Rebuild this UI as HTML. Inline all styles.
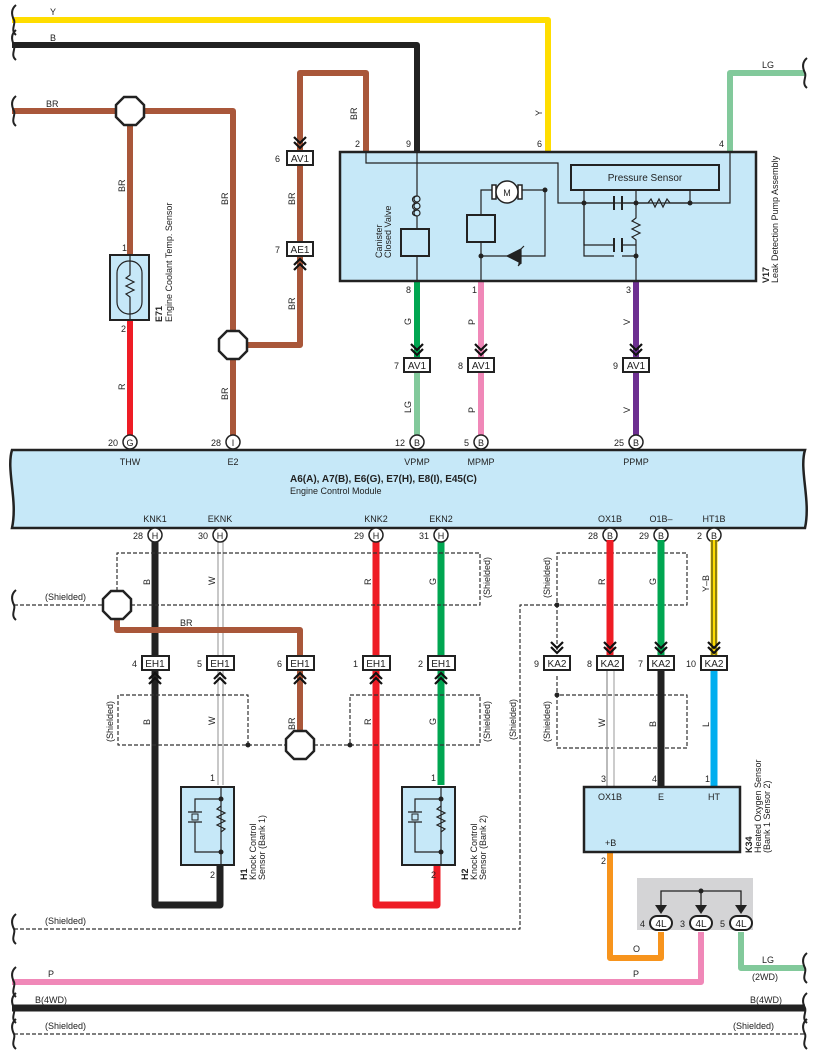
<!DOCTYPE html>
<html><head><meta charset="utf-8"><style>
html,body{margin:0;padding:0;background:#fff}
svg{display:block}
text{font-family:"Liberation Sans",sans-serif;fill:#222}
</style></head><body>
<svg width="818" height="1056" viewBox="0 0 818 1056" xmlns="http://www.w3.org/2000/svg">
<defs>
<g id="oct"><polygon points="-6,-14 6,-14 14,-6 14,6 6,14 -6,14 -14,6 -14,-6" fill="#fff" stroke="#222" stroke-width="2.5"/></g>
<g id="dn"><path d="M-6,-21 L0,-15 L6,-21 M-6,-16 L0,-10 L6,-16" fill="none" stroke="#111" stroke-width="2.2"/></g>
<g id="up"><path d="M-6,21 L0,15 L6,21 M-6,16 L0,10 L6,16" fill="none" stroke="#111" stroke-width="2.2"/></g>
<g id="brk"><path d="M4,-15 C-2,-10 0,-4 2,0 C4,4 -2,10 4,15" fill="none" stroke="#222" stroke-width="2"/></g>
</defs>

<g fill="none" stroke-linejoin="round">
<path d="M12,20 H548 V152" stroke="#ffdd00" stroke-width="6"/>
<path d="M12,45 H417 V152" stroke="#222" stroke-width="6"/>
<path d="M12,111 H233 V440" stroke="#a9573a" stroke-width="6"/>
<path d="M130,111 V255" stroke="#a9573a" stroke-width="6"/>
<path d="M233,345 H300 V73 H366 V152" stroke="#a9573a" stroke-width="6"/>
<path d="M130,320 V440" stroke="#ee1c25" stroke-width="6"/>
<path d="M730,152 V73 H805" stroke="#82c99b" stroke-width="6"/>
<path d="M417,281 V358" stroke="#00a651" stroke-width="6"/>
<path d="M417,372 V440" stroke="#82c99b" stroke-width="6"/>
<path d="M481,281 V440" stroke="#f088b8" stroke-width="6"/>
<path d="M636,281 V440" stroke="#6d2f91" stroke-width="6"/>
</g>
<use href="#brk" x="12" y="20"/><use href="#brk" x="12" y="45"/><use href="#brk" x="12" y="111"/><use href="#brk" x="803" y="73"/>
<text x="50" y="15" font-size="9">Y</text>
<text x="50" y="41" font-size="9">B</text>
<text x="46" y="107" font-size="9">BR</text>
<text x="762" y="68" font-size="9">LG</text>
<use href="#oct" x="130" y="111"/>
<use href="#oct" x="233" y="345"/>
<g font-size="9">
<text transform="translate(125,192) rotate(-90)">BR</text>
<text transform="translate(228,205) rotate(-90)">BR</text>
<text transform="translate(295,205) rotate(-90)">BR</text>
<text transform="translate(295,310) rotate(-90)">BR</text>
<text transform="translate(357,120) rotate(-90)">BR</text>
<text transform="translate(542,116) rotate(-90)">Y</text>
<text transform="translate(125,390) rotate(-90)">R</text>
<text transform="translate(228,400) rotate(-90)">BR</text>
<text transform="translate(411,325) rotate(-90)">G</text>
<text transform="translate(411,413) rotate(-90)">LG</text>
<text transform="translate(475,325) rotate(-90)">P</text>
<text transform="translate(475,413) rotate(-90)">P</text>
<text transform="translate(630,325) rotate(-90)">V</text>
<text transform="translate(630,413) rotate(-90)">V</text>
</g>
<use href="#dn" x="300" y="158"/>
<rect x="287" y="151" width="26" height="14" fill="#fff" stroke="#222" stroke-width="2"/>
<text x="300" y="162" font-size="10" text-anchor="middle">AV1</text><text x="280" y="162" font-size="9" text-anchor="end">6</text>
<rect x="287" y="242" width="26" height="14" fill="#fff" stroke="#222" stroke-width="2"/>
<use href="#up" x="300" y="249"/>
<text x="300" y="253" font-size="10" text-anchor="middle">AE1</text><text x="280" y="253" font-size="9" text-anchor="end">7</text>

<rect x="110" y="255" width="39" height="65" fill="#c6e8f8" stroke="#222" stroke-width="2"/>
<rect x="117" y="261" width="25" height="53" rx="12" fill="none" stroke="#222" stroke-width="1.2"/>
<path d="M130,255 V275 L126,278 L134,282 L126,286 L134,290 L126,294 L130,297 V320" fill="none" stroke="#222" stroke-width="1.2"/>
<text x="122" y="251" font-size="9">1</text><text x="121" y="332" font-size="9">2</text>
<text transform="translate(162,322) rotate(-90)" font-size="9"><tspan font-weight="bold">E71</tspan></text>
<text transform="translate(172,322) rotate(-90)" font-size="9">Engine Coolant Temp.  Sensor</text>

<rect x="340" y="152" width="416" height="129" fill="#c6e8f8" stroke="#222" stroke-width="2.5"/>
<g fill="none" stroke="#222" stroke-width="1.2">
<path d="M366,152 V163 H558 V203 H730 V152"/>
<path d="M417,152 V196 M417,216 V229 M417,256 V281"/>
<path d="M417,196 C411,196 411,203 417,203 M417,203 C411,203 411,210 417,210 M417,210 C411,210 411,216 417,216"/>
<path d="M414,199 a3,3 0 1,0 6,0 a3,3 0 1,0 -6,0 M414,206 a3,3 0 1,0 6,0 a3,3 0 1,0 -6,0 M414,213 a3,3 0 1,0 6,0 a3,3 0 1,0 -6,0"/>
<path d="M481,281 V242 M481,242 V215 M481,242 V256 H545 V190 H522 M481,215 V190 H492"/>
<path d="M507,256 L521,249 V263 Z M521,249 V263 L518,266 M521,249 L524,246" fill="#222"/>
<path d="M584,203 V245 H614 M622,245 H636 V281 M636,203 V218 l-4,3 8,4 -8,4 8,4 -8,4 4,3 V245"/>
<path d="M584,203 H614 M622,203 H648 l3,-4 4,8 4,-8 4,8 4,-8 3,4 H690"/>
<path d="M614,196 V210 M622,196 V210 M614,238 V252 M622,238 V252" stroke-width="2"/>
<path d="M584,190 V203 M636,190 V203 M690,190 V203"/>
</g>
<rect x="401" y="229" width="28" height="27" fill="#c6e8f8" stroke="#222" stroke-width="2"/>
<rect x="467" y="215" width="28" height="27" fill="#c6e8f8" stroke="#222" stroke-width="2"/>
<rect x="492" y="185" width="4" height="14" fill="#fff" stroke="#222" stroke-width="1.5"/>
<rect x="518" y="185" width="4" height="14" fill="#fff" stroke="#222" stroke-width="1.5"/>
<circle cx="507" cy="192" r="11" fill="#fff" stroke="#222" stroke-width="1.5"/>
<text x="507" y="196" font-size="9" text-anchor="middle">M</text>
<rect x="571" y="165" width="148" height="25" fill="#c6e8f8" stroke="#222" stroke-width="2"/>
<text x="645" y="181" font-size="10" text-anchor="middle">Pressure Sensor</text>
<g fill="#222"><circle cx="545" cy="190" r="2.5"/><circle cx="481" cy="256" r="2.5"/><circle cx="584" cy="203" r="2.5"/><circle cx="636" cy="203" r="2.5"/><circle cx="690" cy="203" r="2.5"/><circle cx="636" cy="256" r="2.5"/></g>
<path d="M584,203 V256 H614 M622,256 H636" fill="none" stroke="#222" stroke-width="1.2"/>
<text transform="translate(382,258) rotate(-90)" font-size="9">Canister</text>
<text transform="translate(391,258) rotate(-90)" font-size="9">Closed Valve</text>
<text transform="translate(769,283) rotate(-90)" font-size="9"><tspan font-weight="bold">V17</tspan></text>
<text transform="translate(778,283) rotate(-90)" font-size="9">Leak Detection Pump Assembly</text>
<g font-size="9">
<text x="355" y="147">2</text><text x="406" y="147">9</text><text x="537" y="147">6</text><text x="719" y="147">4</text>
<text x="406" y="293">8</text><text x="472" y="293">1</text><text x="626" y="293">3</text>
</g>
<g>
<use href="#dn" x="417" y="365"/><rect x="404" y="358" width="26" height="14" fill="#fff" stroke="#222" stroke-width="2"/><text x="417" y="369" font-size="10" text-anchor="middle">AV1</text><text x="399" y="369" font-size="9" text-anchor="end">7</text>
<use href="#dn" x="481" y="365"/><rect x="468" y="358" width="26" height="14" fill="#fff" stroke="#222" stroke-width="2"/><text x="481" y="369" font-size="10" text-anchor="middle">AV1</text><text x="463" y="369" font-size="9" text-anchor="end">8</text>
<use href="#dn" x="636" y="365"/><rect x="623" y="358" width="26" height="14" fill="#fff" stroke="#222" stroke-width="2"/><text x="636" y="369" font-size="10" text-anchor="middle">AV1</text><text x="618" y="369" font-size="9" text-anchor="end">9</text>
</g>

<path d="M12,450 H805 C799,470 811,500 805,528 H12 C18,500 6,470 12,450 Z" fill="#c6e8f8" stroke="#222" stroke-width="2.5"/>
<g font-size="9" text-anchor="middle">
<circle cx="130" cy="442" r="7" fill="#fff" stroke="#222" stroke-width="1.5"/><text x="130" y="446">G</text><text x="118" y="446" text-anchor="end">20</text><text x="130" y="465">THW</text>
<circle cx="233" cy="442" r="7" fill="#fff" stroke="#222" stroke-width="1.5"/><text x="233" y="446">I</text><text x="221" y="446" text-anchor="end">28</text><text x="233" y="465">E2</text>
<circle cx="417" cy="442" r="7" fill="#fff" stroke="#222" stroke-width="1.5"/><text x="417" y="446">B</text><text x="405" y="446" text-anchor="end">12</text><text x="417" y="465">VPMP</text>
<circle cx="481" cy="442" r="7" fill="#fff" stroke="#222" stroke-width="1.5"/><text x="481" y="446">B</text><text x="469" y="446" text-anchor="end">5</text><text x="481" y="465">MPMP</text>
<circle cx="636" cy="442" r="7" fill="#fff" stroke="#222" stroke-width="1.5"/><text x="636" y="446">B</text><text x="624" y="446" text-anchor="end">25</text><text x="636" y="465">PPMP</text>
<text x="155" y="522">KNK1</text><text x="220" y="522">EKNK</text><text x="376" y="522">KNK2</text><text x="441" y="522">EKN2</text>
<text x="610" y="522">OX1B</text><text x="661" y="522">O1B–</text><text x="714" y="522">HT1B</text>
</g>
<text x="290" y="482" font-size="10" font-weight="bold">A6(A), A7(B), E6(G), E7(H), E8(I), E45(C)</text>
<text x="290" y="494" font-size="9">Engine Control Module</text>

<g fill="none" stroke-linejoin="round">
<path d="M155,540 V905 H220 V866" stroke="#222" stroke-width="7"/>
<path d="M218,540 V785 M223,540 V785" stroke="#aaa" stroke-width="1.3"/>
<path d="M117,618 V630 H300 V733" stroke="#a9573a" stroke-width="6"/>
<path d="M376,540 V905 H437 V866" stroke="#ee1c25" stroke-width="7"/>
<path d="M441,540 V785" stroke="#00a651" stroke-width="7"/>
<g stroke="#333" stroke-width="1.2" stroke-dasharray="4,2">
<path d="M117,591 V553 H480 V605 H131 M14,605 H103"/>
<path d="M248,745 V695 H118 V745 H286 M314,745 H480 V695 H350 V745"/>
<path d="M14,929 H520 V605 H687 V553 H557 V650"/>
<path d="M557,676 V748 H687 V695 H557"/>
<path d="M14,1034 H805"/>
</g>
</g>
<use href="#brk" x="12" y="605"/><use href="#brk" x="12" y="929"/>
<use href="#oct" x="117" y="605"/>
<use href="#oct" x="300" y="745"/>
<g fill="#222"><circle cx="248" cy="745" r="2.5"/><circle cx="350" cy="745" r="2.5"/><circle cx="557" cy="605" r="2.5"/><circle cx="557" cy="695" r="2.5"/></g>
<g font-size="9">
<text x="45" y="600">(Shielded)</text>
<text x="45" y="924">(Shielded)</text>
<text x="180" y="626">BR</text>
<text transform="translate(490,598) rotate(-90)">(Shielded)</text>
<text transform="translate(113,742) rotate(-90)">(Shielded)</text>
<text transform="translate(490,742) rotate(-90)">(Shielded)</text>
<text transform="translate(550,598) rotate(-90)">(Shielded)</text>
<text transform="translate(550,742) rotate(-90)">(Shielded)</text>
<text transform="translate(516,740) rotate(-90)">(Shielded)</text>
<text transform="translate(150,585) rotate(-90)">B</text>
<text transform="translate(215,585) rotate(-90)">W</text>
<text transform="translate(150,725) rotate(-90)">B</text>
<text transform="translate(215,725) rotate(-90)">W</text>
<text transform="translate(295,730) rotate(-90)">BR</text>
<text transform="translate(371,585) rotate(-90)">R</text>
<text transform="translate(436,585) rotate(-90)">G</text>
<text transform="translate(371,725) rotate(-90)">R</text>
<text transform="translate(436,725) rotate(-90)">G</text>
<text transform="translate(605,585) rotate(-90)">R</text>
<text transform="translate(656,585) rotate(-90)">G</text>
<text transform="translate(709,592) rotate(-90)">Y–B</text>
<text transform="translate(605,727) rotate(-90)">W</text>
<text transform="translate(656,727) rotate(-90)">B</text>
<text transform="translate(709,727) rotate(-90)">L</text>
</g>
<g font-size="9" text-anchor="middle">
<circle cx="155" cy="535" r="7" fill="#fff" stroke="#222" stroke-width="1.5"/><text x="155" y="539">H</text><text x="143" y="539" text-anchor="end">28</text>
<circle cx="220" cy="535" r="7" fill="#fff" stroke="#222" stroke-width="1.5"/><text x="220" y="539">H</text><text x="208" y="539" text-anchor="end">30</text>
<circle cx="376" cy="535" r="7" fill="#fff" stroke="#222" stroke-width="1.5"/><text x="376" y="539">H</text><text x="364" y="539" text-anchor="end">29</text>
<circle cx="441" cy="535" r="7" fill="#fff" stroke="#222" stroke-width="1.5"/><text x="441" y="539">H</text><text x="429" y="539" text-anchor="end">31</text>
<circle cx="610" cy="535" r="7" fill="#fff" stroke="#222" stroke-width="1.5"/><text x="610" y="539">B</text><text x="598" y="539" text-anchor="end">28</text>
<circle cx="661" cy="535" r="7" fill="#fff" stroke="#222" stroke-width="1.5"/><text x="661" y="539">B</text><text x="649" y="539" text-anchor="end">29</text>
<circle cx="714" cy="535" r="7" fill="#fff" stroke="#222" stroke-width="1.5"/><text x="714" y="539">B</text><text x="702" y="539" text-anchor="end">2</text>
</g>
<g font-size="10" text-anchor="middle">
<rect x="142" y="656" width="27" height="14" fill="#fff" stroke="#222" stroke-width="2"/><use href="#up" x="155" y="663"/><text x="155" y="667">EH1</text><text x="137" y="667" font-size="9" text-anchor="end">4</text>
<rect x="207" y="656" width="27" height="14" fill="#fff" stroke="#222" stroke-width="2"/><use href="#up" x="220" y="663"/><text x="220" y="667">EH1</text><text x="202" y="667" font-size="9" text-anchor="end">5</text>
<rect x="287" y="656" width="27" height="14" fill="#fff" stroke="#222" stroke-width="2"/><use href="#up" x="300" y="663"/><text x="300" y="667">EH1</text><text x="282" y="667" font-size="9" text-anchor="end">6</text>
<rect x="363" y="656" width="27" height="14" fill="#fff" stroke="#222" stroke-width="2"/><use href="#up" x="376" y="663"/><text x="376" y="667">EH1</text><text x="358" y="667" font-size="9" text-anchor="end">1</text>
<rect x="428" y="656" width="27" height="14" fill="#fff" stroke="#222" stroke-width="2"/><use href="#up" x="441" y="663"/><text x="441" y="667">EH1</text><text x="423" y="667" font-size="9" text-anchor="end">2</text>
</g>
<g>
<rect x="181" y="787" width="53" height="78" fill="#c6e8f8" stroke="#222" stroke-width="2"/>
<path d="M221,787 V865 M221,799 H195 V812 M195,822 V852 H221 M188,812 H202 M188,822 H202 M221,806 l-4,3 8,4 -8,4 8,4 -8,4 8,4 -4,3" fill="none" stroke="#222" stroke-width="1.2"/>
<rect x="192" y="814" width="6" height="6" fill="none" stroke="#222" stroke-width="1"/>
<circle cx="221" cy="799" r="2.5" fill="#222"/><circle cx="221" cy="852" r="2.5" fill="#222"/>
<text x="210" y="781" font-size="9">1</text><text x="210" y="878" font-size="9">2</text>
<text transform="translate(247,880) rotate(-90)" font-size="9" font-weight="bold">H1</text>
<text transform="translate(256,880) rotate(-90)" font-size="9">Knock Control</text>
<text transform="translate(265,880) rotate(-90)" font-size="9">Sensor (Bank 1)</text>
<rect x="402" y="787" width="53" height="78" fill="#c6e8f8" stroke="#222" stroke-width="2"/>
<path d="M441,787 V865 M441,799 H415 V812 M415,822 V852 H441 M408,812 H422 M408,822 H422 M441,806 l-4,3 8,4 -8,4 8,4 -8,4 8,4 -4,3" fill="none" stroke="#222" stroke-width="1.2"/>
<rect x="412" y="814" width="6" height="6" fill="none" stroke="#222" stroke-width="1"/>
<circle cx="441" cy="799" r="2.5" fill="#222"/><circle cx="441" cy="852" r="2.5" fill="#222"/>
<text x="431" y="781" font-size="9">1</text><text x="431" y="878" font-size="9">2</text>
<text transform="translate(468,880) rotate(-90)" font-size="9" font-weight="bold">H2</text>
<text transform="translate(477,880) rotate(-90)" font-size="9">Knock Control</text>
<text transform="translate(486,880) rotate(-90)" font-size="9">Sensor (Bank 2)</text>
</g>

<g fill="none" stroke-linejoin="round">
<path d="M610,540 V655" stroke="#ee1c25" stroke-width="7"/>
<path d="M661,540 V655" stroke="#00a651" stroke-width="7"/>
<path d="M714,540 V655" stroke="#ffdd00" stroke-width="7"/>
<path d="M712,540 V655 M716,540 V655" stroke="#222" stroke-width="1"/>
<path d="M607,670 V787" stroke="#777" stroke-width="1"/>
<path d="M614,670 V787" stroke="#bbb" stroke-width="1.5"/>
<path d="M661,670 V787" stroke="#222" stroke-width="7"/>
<path d="M714,670 V787" stroke="#00aeef" stroke-width="7"/>
<path d="M610,852 V958 H661 V932" stroke="#f7941d" stroke-width="6"/>
<path d="M12,982 H701 V932" stroke="#f088b8" stroke-width="6"/>
<path d="M741,932 V968 H805" stroke="#82c99b" stroke-width="6"/>
<path d="M12,1008 H805" stroke="#222" stroke-width="7"/>
</g>
<use href="#brk" x="12" y="982"/><use href="#brk" x="12" y="1008"/><use href="#brk" x="12" y="1034"/>
<use href="#brk" x="803" y="968"/><use href="#brk" x="803" y="1008"/><use href="#brk" x="803" y="1034"/>
<g font-size="10" text-anchor="middle">
<use href="#dn" x="557" y="663"/><rect x="544" y="656" width="26" height="14" fill="#fff" stroke="#222" stroke-width="2"/><text x="557" y="667">KA2</text><text x="539" y="667" font-size="9" text-anchor="end">9</text>
<use href="#dn" x="610" y="663"/><rect x="597" y="656" width="26" height="14" fill="#fff" stroke="#222" stroke-width="2"/><text x="610" y="667">KA2</text><text x="592" y="667" font-size="9" text-anchor="end">8</text>
<use href="#dn" x="661" y="663"/><rect x="648" y="656" width="26" height="14" fill="#fff" stroke="#222" stroke-width="2"/><text x="661" y="667">KA2</text><text x="643" y="667" font-size="9" text-anchor="end">7</text>
<use href="#dn" x="714" y="663"/><rect x="701" y="656" width="26" height="14" fill="#fff" stroke="#222" stroke-width="2"/><text x="714" y="667">KA2</text><text x="696" y="667" font-size="9" text-anchor="end">10</text>
</g>
<rect x="584" y="787" width="156" height="65" fill="#c6e8f8" stroke="#222" stroke-width="2.5"/>
<g font-size="9">
<text x="610" y="800" text-anchor="middle">OX1B</text><text x="661" y="800" text-anchor="middle">E</text><text x="714" y="800" text-anchor="middle">HT</text>
<text x="605" y="846">+B</text>
<text x="601" y="782">3</text><text x="652" y="782">4</text><text x="705" y="782">1</text><text x="601" y="864">2</text>
<text transform="translate(752,853) rotate(-90)" font-weight="bold">K34</text>
<text transform="translate(761,853) rotate(-90)">Heated Oxygen Sensor</text>
<text transform="translate(770,853) rotate(-90)">(Bank 1 Sensor 2)</text>
</g>
<rect x="637" y="878" width="116" height="52" fill="#d4d4d6"/>
<path d="M661,905 V891 H741 V905 M701,891 V905" fill="none" stroke="#222" stroke-width="1.3"/>
<circle cx="701" cy="891" r="2.5" fill="#222"/>
<g fill="#222"><path d="M655,905 L667,905 L661,914 Z"/><path d="M695,905 L707,905 L701,914 Z"/><path d="M735,905 L747,905 L741,914 Z"/></g>
<g font-size="10" text-anchor="middle">
<rect x="650" y="916" width="22" height="14" rx="7" fill="#fff" stroke="#222" stroke-width="2"/><text x="661" y="927">4L</text><text x="645" y="927" font-size="9" text-anchor="end">4</text>
<rect x="690" y="916" width="22" height="14" rx="7" fill="#fff" stroke="#222" stroke-width="2"/><text x="701" y="927">4L</text><text x="685" y="927" font-size="9" text-anchor="end">3</text>
<rect x="730" y="916" width="22" height="14" rx="7" fill="#fff" stroke="#222" stroke-width="2"/><text x="741" y="927">4L</text><text x="725" y="927" font-size="9" text-anchor="end">5</text>
</g>
<g font-size="9">
<text x="633" y="952">O</text>
<text x="633" y="977">P</text>
<text x="48" y="977">P</text>
<text x="762" y="963">LG</text>
<text x="752" y="980">(2WD)</text>
<text x="35" y="1003">B(4WD)</text>
<text x="750" y="1003">B(4WD)</text>
<text x="45" y="1029">(Shielded)</text>
<text x="733" y="1029">(Shielded)</text>
</g>
</svg>
</body></html>
